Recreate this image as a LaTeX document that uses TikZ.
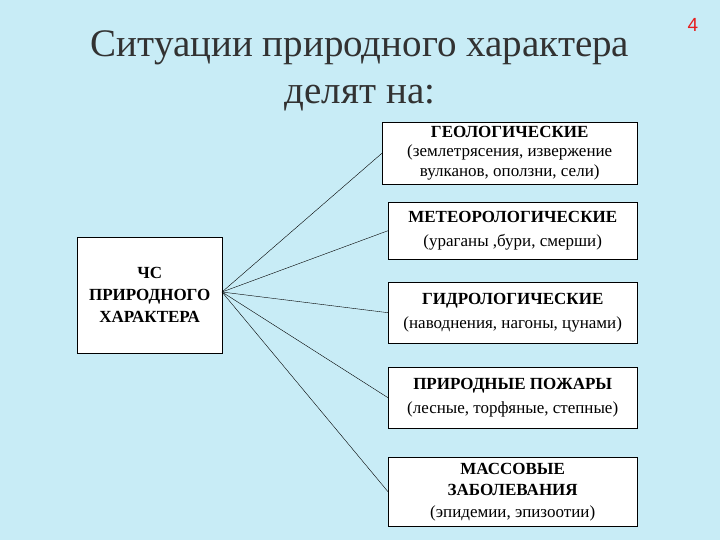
\documentclass[tikz,border=0pt]{standalone}
\usepackage{fontspec}
\setmainfont{Liberation Serif}
\newfontfamily\numfont{Liberation Sans}
\definecolor{bgblue}{RGB}{200,236,246}
\definecolor{numred}{RGB}{230,30,30}
\definecolor{titlegray}{RGB}{50,50,50}
\begin{document}
\begin{tikzpicture}[x=1pt,y=-1pt,
  kind/.style = {draw, fill=white, align=center, font=\fontsize{17}{19.5}\selectfont, anchor=north west, inner sep=1pt}]

%% Background
\fill[bgblue] (0,0) rectangle (720,540);
\useasboundingbox (0,0) rectangle (720,540);

%% Title
\node[font=\fontsize{39}{47}\selectfont, align=center, text=titlegray] (title) at (360,71) {Ситуации природного характера\\делят на:};
\node[font=\numfont\fontsize{19}{19}\selectfont, text=numred] (num) at (693,25) {4};

%% Main box
\node[kind, minimum width=145, minimum height=116, font=\bfseries\fontsize{17}{22}\selectfont] (main) at (77,237) {ЧС\\ПРИРОДНОГО\\ХАРАКТЕРА};
\coordinate (hub) at (222,292);

%% Kinds
\node[kind, minimum width=255, minimum height=62] (geo) at (382,122) {\textbf{ГЕОЛОГИЧЕСКИЕ}\\(землетрясения, извержение\\вулканов, оползни, сели)};
\node[kind, minimum width=249, minimum height=57, font=\fontsize{17}{24}\selectfont] (meteo) at (388,202) {\textbf{МЕТЕОРОЛОГИЧЕСКИЕ}\\(ураганы ,бури, смерши)};
\node[kind, minimum width=249, minimum height=61, font=\fontsize{17}{24}\selectfont] (hydro) at (388,282) {\textbf{ГИДРОЛОГИЧЕСКИЕ}\\(наводнения, нагоны, цунами)};
\node[kind, minimum width=249, minimum height=61, font=\fontsize{17}{24}\selectfont] (fire) at (388,367) {\textbf{ПРИРОДНЫЕ ПОЖАРЫ}\\(лесные, торфяные, степные)};
\node[kind, minimum width=249, minimum height=69, font=\fontsize{17}{21.5}\selectfont] (epi) at (388,457) {\textbf{МАССОВЫЕ}\\\textbf{ЗАБОЛЕВАНИЯ}\\(эпидемии, эпизоотии)};

%% Links
\foreach \k in {geo, meteo, hydro, fire, epi}{
	\draw (hub) -- (\k.west);
}

\end{tikzpicture}
\end{document}
